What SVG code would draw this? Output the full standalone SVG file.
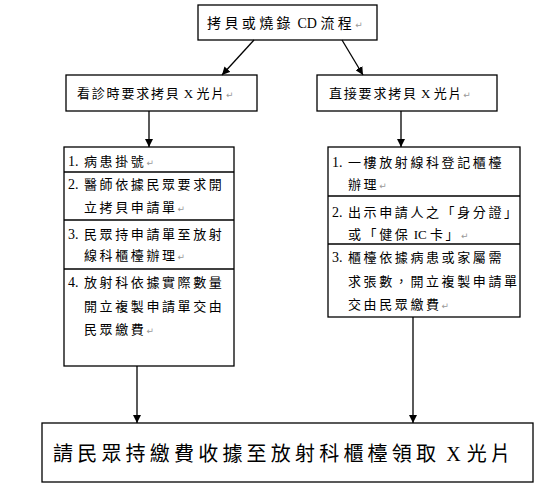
<svg xmlns="http://www.w3.org/2000/svg" width="553" height="486" viewBox="0 0 553 486">
<defs>
<marker id="ah" viewBox="0 0 10 10" refX="10" refY="5" markerWidth="8" markerHeight="8" markerUnits="userSpaceOnUse" orient="auto">
<path d="M0,0 L10,5 L0,10 z" fill="#000"/>
</marker>
<style>
rect{fill:#fff;stroke:#000;stroke-width:1.3}
.sep{stroke:#000;stroke-width:1.3}
.t{font-family:"Liberation Serif","Noto Sans CJK TC",serif;font-size:13px;letter-spacing:2.6px;fill:#000}
.ttl{letter-spacing:1.8px}
.top{font-size:14px;letter-spacing:3.4px}
.big{font-size:20px;letter-spacing:4.2px}
.num{font-size:14px;letter-spacing:0}
.lat{letter-spacing:0}
.bl{letter-spacing:0;word-spacing:1px}
.pm{font-family:"DejaVu Sans",sans-serif;font-size:9px;fill:#999;letter-spacing:0}
#connectors line{stroke:#000;stroke-width:1.3;marker-end:url(#ah)}
</style>
</defs>
<rect width="553" height="486" fill="#fff" style="stroke:none"/>

<g id="node-top">
<rect x="198" y="5" width="179" height="35"/>
<text class="t top" x="207" y="28">拷貝或燒錄<tspan class="lat"> CD </tspan>流程<tspan class="pm">↵</tspan></text>
</g>

<g id="node-left-title">
<rect x="66" y="75" width="191" height="36"/>
<text class="t ttl" x="77" y="98">看診時要求拷貝<tspan class="lat"> X </tspan>光片<tspan class="pm">↵</tspan></text>
</g>

<g id="node-right-title">
<rect x="317" y="75" width="180" height="36"/>
<text class="t ttl" x="329" y="98">直接要求拷貝<tspan class="lat"> X </tspan>光片<tspan class="pm">↵</tspan></text>
</g>

<g id="node-left-list">
<rect x="64" y="147" width="170" height="219"/>
<line class="sep" x1="64" y1="172" x2="234" y2="172"/>
<line class="sep" x1="64" y1="220" x2="234" y2="220"/>
<line class="sep" x1="64" y1="269" x2="234" y2="269"/>
<text class="t num" x="68" y="166">1.</text>
<text class="t" x="84" y="166">病患掛號<tspan class="pm">↵</tspan></text>
<text class="t num" x="68" y="189">2.</text>
<text class="t" x="84" y="189">醫師依據民眾要求開</text>
<text class="t" x="84" y="212">立拷貝申請單<tspan class="pm">↵</tspan></text>
<text class="t num" x="68" y="239">3.</text>
<text class="t" x="84" y="239">民眾持申請單至放射</text>
<text class="t" x="84" y="260">線科櫃檯辦理<tspan class="pm">↵</tspan></text>
<text class="t num" x="68" y="287">4.</text>
<text class="t" x="84" y="287">放射科依據實際數量</text>
<text class="t" x="84" y="311">開立複製申請單交由</text>
<text class="t" x="84" y="334">民眾繳費<tspan class="pm">↵</tspan></text>
</g>

<g id="node-right-list">
<rect x="328" y="147" width="192" height="170"/>
<line class="sep" x1="328" y1="196" x2="520" y2="196"/>
<line class="sep" x1="328" y1="244" x2="520" y2="244"/>
<text class="t num" x="332" y="167">1.</text>
<text class="t" x="348" y="167">一樓放射線科登記櫃檯</text>
<text class="t" x="348" y="189">辦理<tspan class="pm">↵</tspan></text>
<text class="t num" x="332" y="217">2.</text>
<text class="t" x="348" y="217">出示申請人之「身分證」</text>
<text class="t" x="348" y="239">或「健保<tspan class="lat"> IC </tspan>卡」<tspan class="pm">↵</tspan></text>
<text class="t num" x="332" y="262">3.</text>
<text class="t" x="348" y="262">櫃檯依據病患或家屬需</text>
<text class="t" x="348" y="286">求張數，開立複製申請單</text>
<text class="t" x="348" y="309">交由民眾繳費<tspan class="pm">↵</tspan></text>
</g>

<g id="node-bottom">
<rect x="42" y="423" width="491" height="59"/>
<text class="t big" x="53" y="461">請民眾持繳費收據至放射科櫃檯領取<tspan class="bl"> X </tspan>光片</text>
</g>

<g id="connectors">
<line x1="254" y1="40" x2="222" y2="75"/>
<line x1="342" y1="40" x2="363" y2="75"/>
<line x1="149" y1="111" x2="149" y2="147"/>
<line x1="401" y1="111" x2="401" y2="147"/>
<line x1="137" y1="366" x2="137" y2="423"/>
<line x1="413" y1="317" x2="413" y2="423"/>
</g>
</svg>
